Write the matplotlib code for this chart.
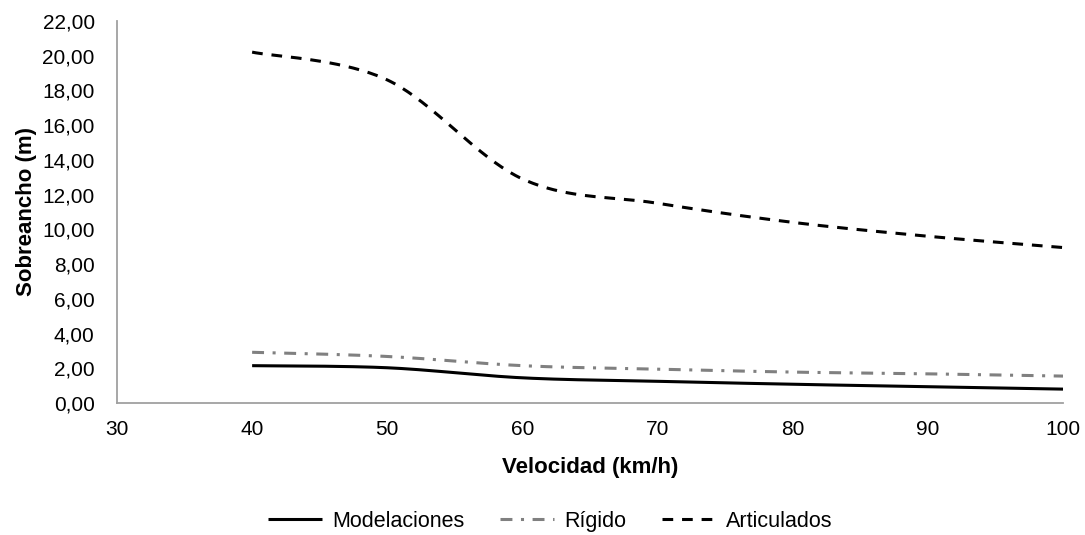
import numpy as np
import matplotlib
matplotlib.use("Agg")
import matplotlib.pyplot as plt
from matplotlib.ticker import FuncFormatter, MultipleLocator

plt.rcParams['font.family'] = ['Liberation Sans', 'DejaVu Sans']

velocidad = [40, 50, 60, 70, 80, 90, 100]
modelaciones = [2.15, 2.03, 1.45, 1.25, 1.08, 0.94, 0.80]
rigido = [2.92, 2.68, 2.15, 1.95, 1.78, 1.68, 1.55]
articulados = [20.2, 18.6, 12.9, 11.5, 10.4, 9.6, 8.95]

def smooth(x, y, n=40):
    x = np.asarray(x, float); y = np.asarray(y, float)
    px = np.concatenate([[x[0]], x, [x[-1]]])
    py = np.concatenate([[y[0]], y, [y[-1]]])
    xs, ys = [], []
    t = np.linspace(0, 1, n)
    for i in range(1, len(px) - 2):
        p0x, p1x, p2x, p3x = px[i-1], px[i], px[i+1], px[i+2]
        p0y, p1y, p2y, p3y = py[i-1], py[i], py[i+1], py[i+2]
        c1x = p1x + (p2x - p0x) / 6; c1y = p1y + (p2y - p0y) / 6
        c2x = p2x - (p3x - p1x) / 6; c2y = p2y - (p3y - p1y) / 6
        bx = (1-t)**3*p1x + 3*(1-t)**2*t*c1x + 3*(1-t)*t**2*c2x + t**3*p2x
        by = (1-t)**3*p1y + 3*(1-t)**2*t*c1y + 3*(1-t)*t**2*c2y + t**3*p2y
        xs.append(bx); ys.append(by)
    return np.concatenate(xs), np.concatenate(ys)

fig = plt.figure(figsize=(10.85, 5.35), dpi=100)
ax = fig.add_axes([0.1078, 0.2467, 0.872, 0.7143])

lw = 2.2
x, y = smooth(velocidad, modelaciones)
ax.plot(x, y, color='black', lw=lw, solid_capstyle='butt', label='Modelaciones')
x, y = smooth(velocidad, rigido)
ax.plot(x, y, color='#808080', lw=lw, dashes=(3.9, 2.8, 1.0, 2.8), label='Rígido')
x, y = smooth(velocidad, articulados)
ax.plot(x, y, color='black', lw=lw, dashes=(3.5, 2.9), label='Articulados')

ax.set_xlim(30, 100)
ax.set_ylim(0, 22)
ax.xaxis.set_major_locator(MultipleLocator(10))
ax.yaxis.set_major_locator(MultipleLocator(2))
ax.yaxis.set_major_formatter(FuncFormatter(lambda v, p: f"{v:.2f}".replace('.', ',')))
for s in ['top', 'right']:
    ax.spines[s].set_visible(False)
for s in ['left', 'bottom']:
    ax.spines[s].set_color('#a0a0a0')
    ax.spines[s].set_linewidth(1.3)
ax.tick_params(length=0, labelsize=15, colors='black')
ax.tick_params(axis='y', pad=16)
ax.tick_params(axis='x', pad=12)

ax.set_xlabel('Velocidad (km/h)', fontsize=16, fontweight='bold', labelpad=13)
ax.set_ylabel('Sobreancho (m)', fontsize=16, fontweight='bold', labelpad=4)

fig.legend(loc='center', bbox_to_anchor=(0.507, 0.026), ncol=3, frameon=False,
           fontsize=15.5, handlelength=2.5, columnspacing=1.67, handletextpad=0.46)

fig.savefig('out.png', dpi=100)
